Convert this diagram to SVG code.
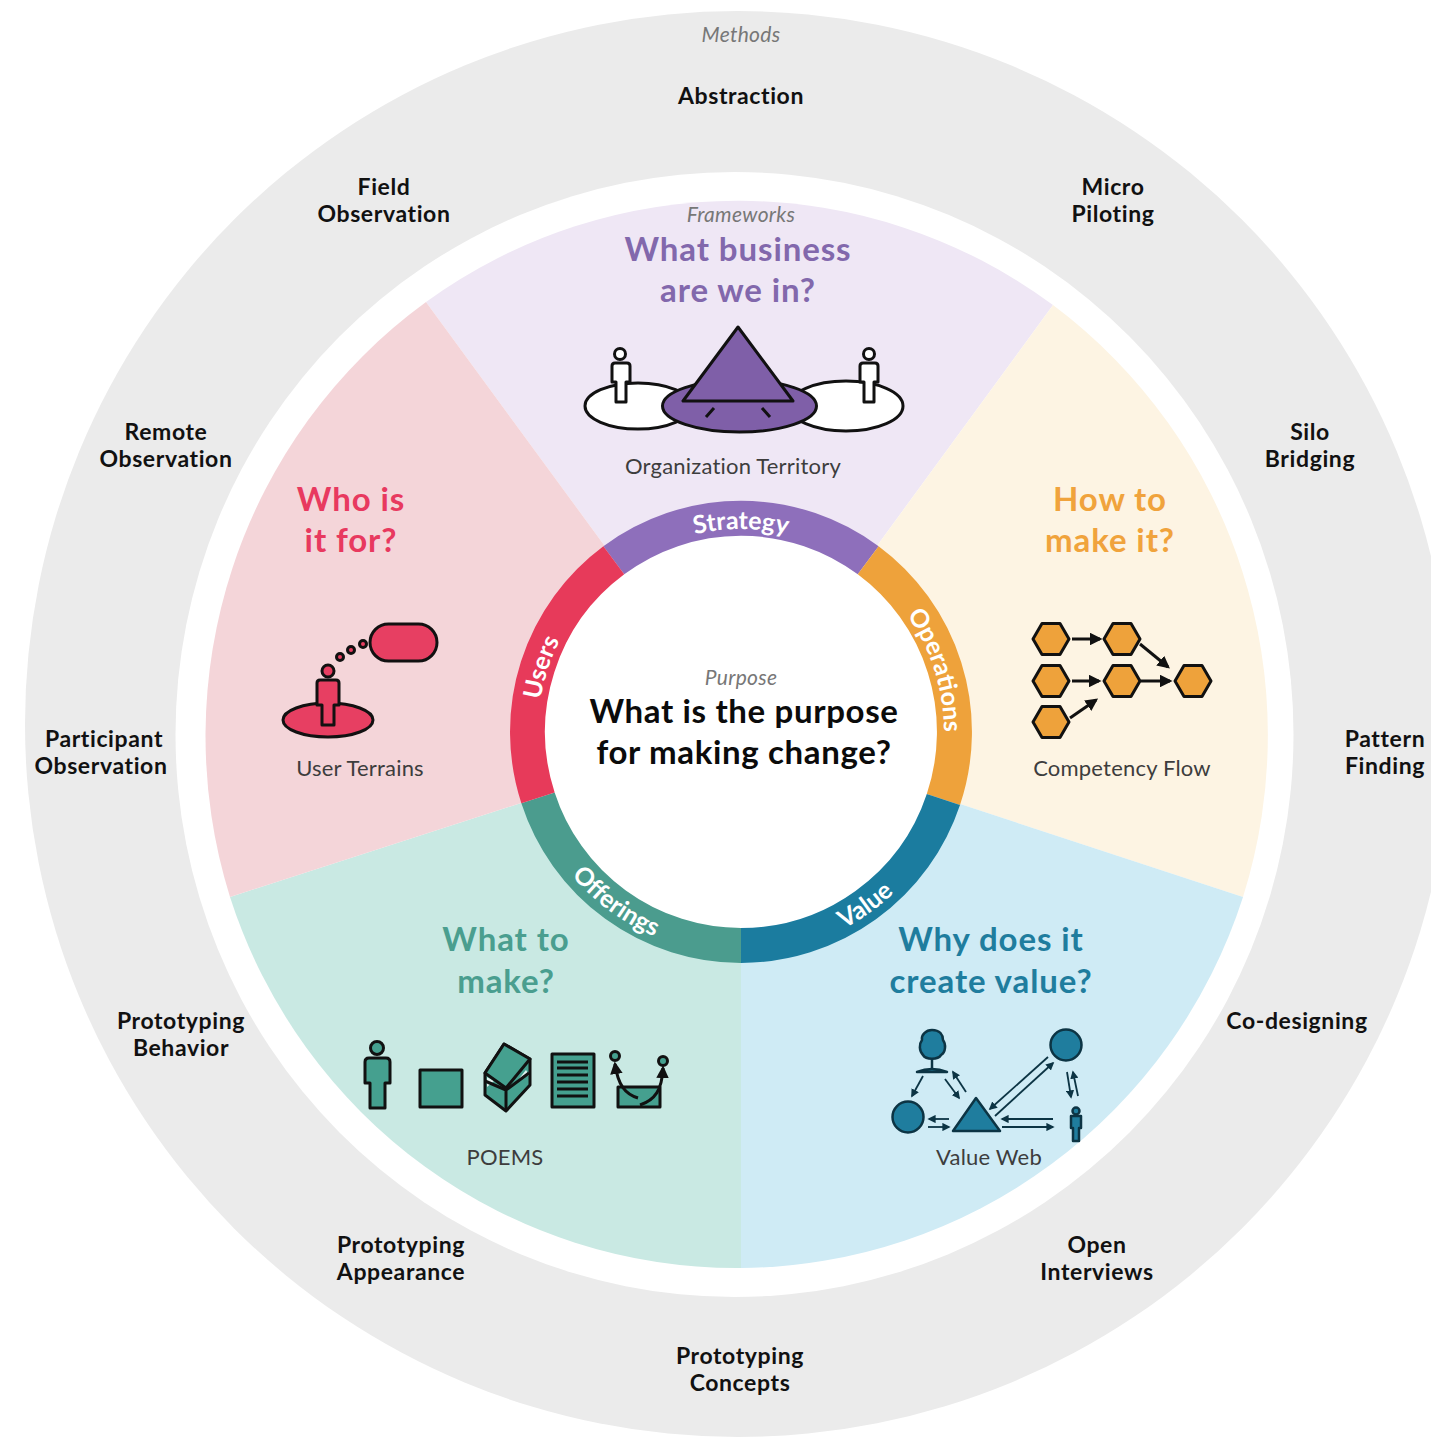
<svg xmlns="http://www.w3.org/2000/svg" width="1431" height="1437" viewBox="0 0 1431 1437">
<style>
text{font-family:"Lato","Liberation Sans",sans-serif;text-anchor:middle}
.m{font-size:23px;font-weight:700;fill:#111;letter-spacing:.6px}
.h{font-size:33px;font-weight:700;letter-spacing:.9px}
.hc{font-size:33px;font-weight:700;letter-spacing:.65px;fill:#0b0b0b}
.c{font-size:22px;fill:#3d3d3d;letter-spacing:.2px}
.i{font-size:21px;font-style:italic;fill:#777;letter-spacing:.3px}
.r{font-size:25px;font-weight:700;fill:#fff}
.seg{fill:none;stroke-width:35}
.ic{stroke:#111;stroke-width:3;stroke-linejoin:round}
.ln{fill:none;stroke:#111;stroke-width:3}
.a{fill:none;stroke:#111;stroke-width:3;marker-end:url(#ah)}
.a2{fill:none;stroke:#0c3444;stroke-width:1.8;marker-end:url(#ah2)}
</style>
<defs>
<marker id="ah" viewBox="0 0 10 10" refX="8" refY="5" markerWidth="4.2" markerHeight="4.2" orient="auto"><path d="M0 0L10 5L0 10z" fill="#111"/></marker>
<marker id="ah2" viewBox="0 0 10 10" refX="8" refY="5" markerWidth="4.6" markerHeight="4.6" orient="auto"><path d="M0 0L10 5L0 10z" fill="#0c3444"/></marker>
<path id="cw" d="M741 935A203 203 0 1 1 741 529A203 203 0 1 1 741 935"/>
<path id="ccw" d="M741 510A222 222 0 1 0 741 954A222 222 0 1 0 741 510"/>
<path id="pers" d="M-6 -20Q-9 -20 -9 -17V-1H-5V19H5V-1H9V-17Q9 -20 6 -20Z"/>
<polygon id="hex" points="-18,0 -9,-15.5 9,-15.5 18,0 9,15.5 -9,15.5"/>
</defs>
<rect width="1431" height="1437" fill="#fff"/>
<g id="rings">
<circle cx="738" cy="724" r="713" fill="#ebebeb"/>
<ellipse cx="734.5" cy="734.5" rx="559" ry="562.5" fill="#fff"/>
</g>
<g id="wedges">
<path d="M741 732L426 302A532.5 536 0 0 1 1053 305Z" fill="#efe7f5"/>
<path d="M741 732L1053 305A532.5 536 0 0 1 1243 897Z" fill="#fdf4e3"/>
<path d="M741 732L1243 897A532.5 536 0 0 1 741 1268Z" fill="#cfebf5"/>
<path d="M741 732L741 1268A532.5 536 0 0 1 230 897Z" fill="#c9e9e3"/>
<path d="M741 732L230 897A532.5 536 0 0 1 426 302Z" fill="#f4d5d9"/>
</g>
<g id="hub">
<circle cx="741" cy="732" r="200" fill="#fff"/>
<path class="seg" stroke="#8e6fbb" d="M613.8 560.3A213.5 213.5 0 0 1 868.2 560.3"/>
<path class="seg" stroke="#eea23b" d="M868.2 560.3A213.5 213.5 0 0 1 943.4 799.5"/>
<path class="seg" stroke="#1b7c9f" d="M943.4 799.5A213.5 213.5 0 0 1 741 945.5"/>
<path class="seg" stroke="#4b9c8e" d="M741 945.5A213.5 213.5 0 0 1 538 797.8"/>
<path class="seg" stroke="#e73a5a" d="M538 797.8A213.5 213.5 0 0 1 613.8 560.3"/>
<text class="r"><textPath href="#cw" startOffset="50%">Strategy</textPath></text>
<text class="r"><textPath href="#cw" startOffset="30%">Users</textPath></text>
<text class="r"><textPath href="#cw" startOffset="70.1%">Operations</textPath></text>
<text class="r"><textPath href="#ccw" startOffset="39.9%">Offerings</textPath></text>
<text class="r"><textPath href="#ccw" startOffset="59.9%">Value</textPath></text>
<text class="i" x="741" y="685">Purpose</text>
<text class="hc" x="744" y="723">What is the purpose</text>
<text class="hc" x="744" y="764">for making change?</text>
</g>
<g id="methods">
<text class="i" x="741" y="42">Methods</text>
<text class="m" x="741" y="104">Abstraction</text>
<text class="m" x="384" y="195">Field</text><text class="m" x="384" y="222">Observation</text>
<text class="m" x="1113" y="195">Micro</text><text class="m" x="1113" y="222">Piloting</text>
<text class="m" x="166" y="440">Remote</text><text class="m" x="166" y="467">Observation</text>
<text class="m" x="1310" y="440">Silo</text><text class="m" x="1310" y="467">Bridging</text>
<text class="m" x="104" y="747">Participant</text><text class="m" x="101" y="774">Observation</text>
<text class="m" x="1385" y="747">Pattern</text><text class="m" x="1385" y="774">Finding</text>
<text class="m" x="181" y="1029">Prototyping</text><text class="m" x="181" y="1056">Behavior</text>
<text class="m" x="1297" y="1029">Co-designing</text>
<text class="m" x="401" y="1253">Prototyping</text><text class="m" x="401" y="1280">Appearance</text>
<text class="m" x="1097" y="1253">Open</text><text class="m" x="1097" y="1280">Interviews</text>
<text class="m" x="740" y="1364">Prototyping</text><text class="m" x="740" y="1391">Concepts</text>
</g>
<g id="node-strategy">
<text class="i" x="741" y="222">Frameworks</text>
<text class="h" x="738" y="261" fill="#8268ac">What business</text>
<text class="h" x="738" y="302" fill="#8268ac">are we in?</text>
<g class="ic">
<ellipse cx="638" cy="406" rx="53" ry="23" fill="#fff"/>
<ellipse cx="846" cy="406" rx="57" ry="25" fill="#fff"/>
<ellipse cx="739.5" cy="406" rx="77" ry="26" fill="#7f5fa8"/>
<polygon points="738,327 683,401 793,401" fill="#7f5fa8"/>
<circle cx="620" cy="354" r="5.5" fill="#fff"/>
<use href="#pers" x="621" y="383" fill="#fff"/>
<circle cx="869" cy="354" r="5.5" fill="#fff"/>
<use href="#pers" x="869" y="383" fill="#fff"/>
<path class="ln" d="M706 417L714 408M762 408L770 417"/>
</g>
<text class="c" x="733" y="474">Organization Territory</text>
</g>
<g id="node-users">
<text class="h" x="351" y="511" fill="#e8395f">Who is</text>
<text class="h" x="351" y="552" fill="#e8395f">it for?</text>
<g class="ic" fill="#e73f62">
<rect x="370" y="624" width="67" height="37" rx="18.5"/>
<circle cx="363" cy="644" r="3.5"/><circle cx="351" cy="650" r="3.5"/><circle cx="340" cy="657" r="3.5"/>
<circle cx="328" cy="671" r="6"/>
<ellipse cx="328" cy="720" rx="45" ry="17"/>
<path d="M320 680Q317 680 317 683V705H322V725H334V705H339V683Q339 680 336 680Z"/>
</g>
<text class="c" x="360" y="776">User Terrains</text>
</g>
<g id="node-operations">
<text class="h" x="1110" y="511" fill="#f0a33c">How to</text>
<text class="h" x="1110" y="552" fill="#f0a33c">make it?</text>
<g class="ic" fill="#eea23b">
<use href="#hex" x="1051" y="639"/><use href="#hex" x="1122" y="639"/>
<use href="#hex" x="1051" y="681"/><use href="#hex" x="1122" y="681"/><use href="#hex" x="1193" y="681"/>
<use href="#hex" x="1051" y="722"/>
</g>
<path class="a" d="M1072 639H1100"/>
<path class="a" d="M1140 644L1168 667"/>
<path class="a" d="M1072 681H1099"/>
<path class="a" d="M1141 681H1170"/>
<path class="a" d="M1070 718L1096 700"/>
<text class="c" x="1122" y="776">Competency Flow</text>
</g>
<g id="node-offerings">
<text class="h" x="506" y="951" fill="#4a9e8f">What to</text>
<text class="h" x="506" y="993" fill="#4a9e8f">make?</text>
<g class="ic" fill="#45a08f">
<circle cx="377" cy="1048" r="6.5"/>
<path d="M369 1058Q365 1058 365 1062V1083H370V1108H385V1083H390V1062Q390 1058 386 1058Z"/>
<rect x="420" y="1070" width="42" height="37"/>
<polygon points="485,1073 485,1095 506,1111 530,1085 530,1059 504,1044"/>
<polygon points="487,1077 494,1081 487,1087" fill="#dff1ee" stroke="none"/>
<polygon points="526,1070 529,1075 518,1080" fill="#dff1ee" stroke="none"/>
<path d="M485 1081L506 1090V1111M506 1090L529 1073" fill="none"/>
<polygon points="504,1044 530,1059 506,1088 485,1073"/>
<rect x="552" y="1054" width="42" height="53"/>
<path class="ln" d="M557 1062H588M557 1068H588M557 1075H588M557 1082H588M557 1089H588M557 1096H588"/>
<rect x="618" y="1087" width="42" height="20"/>
<circle cx="615" cy="1056" r="4.5"/><circle cx="663" cy="1061" r="4.5"/>
</g>
<path class="a" d="M638 1098C625 1094 618 1085 615 1064"/>
<path class="a" d="M640 1105C655 1100 662 1090 663 1068"/>
<text class="c" x="505" y="1165">POEMS</text>
</g>
<g id="node-value">
<text class="h" x="991" y="951" fill="#1f7d9e">Why does it</text>
<text class="h" x="991" y="993" fill="#1f7d9e">create value?</text>
<g fill="#1f7d9e" stroke="#0c3444" stroke-width="2.5" stroke-linejoin="round">
<path d="M932 1030C940 1030 943 1035 943 1040C946 1044 946 1052 941 1055C938 1060 926 1060 923 1055C919 1051 919 1044 922 1040C921 1035 926 1030 932 1030Z"/>
<path d="M932 1058V1069" fill="none"/>
<path d="M917 1072Q932 1066 947 1072Z"/>
<circle cx="1066" cy="1045" r="15.5"/>
<circle cx="908" cy="1117" r="15.5"/>
<polygon points="976,1098 953,1131 1000,1131"/>
<circle cx="1076" cy="1111" r="3.5"/>
<path d="M1071 1116H1081V1128H1079V1141H1073V1128H1071Z"/>
</g>
<path class="a2" d="M923 1076L912 1096"/>
<path class="a2" d="M945 1079L959 1098"/>
<path class="a2" d="M966 1092L953 1072"/>
<path class="a2" d="M1048 1057L990 1109"/>
<path class="a2" d="M995 1116L1053 1063"/>
<path class="a2" d="M1067 1072L1071 1097"/>
<path class="a2" d="M1078 1096L1073 1072"/>
<path class="a2" d="M949 1119H929"/>
<path class="a2" d="M928 1127H949"/>
<path class="a2" d="M1053 1119H1002"/>
<path class="a2" d="M1002 1127H1053"/>
<text class="c" x="989" y="1165">Value Web</text>
</g>
</svg>
